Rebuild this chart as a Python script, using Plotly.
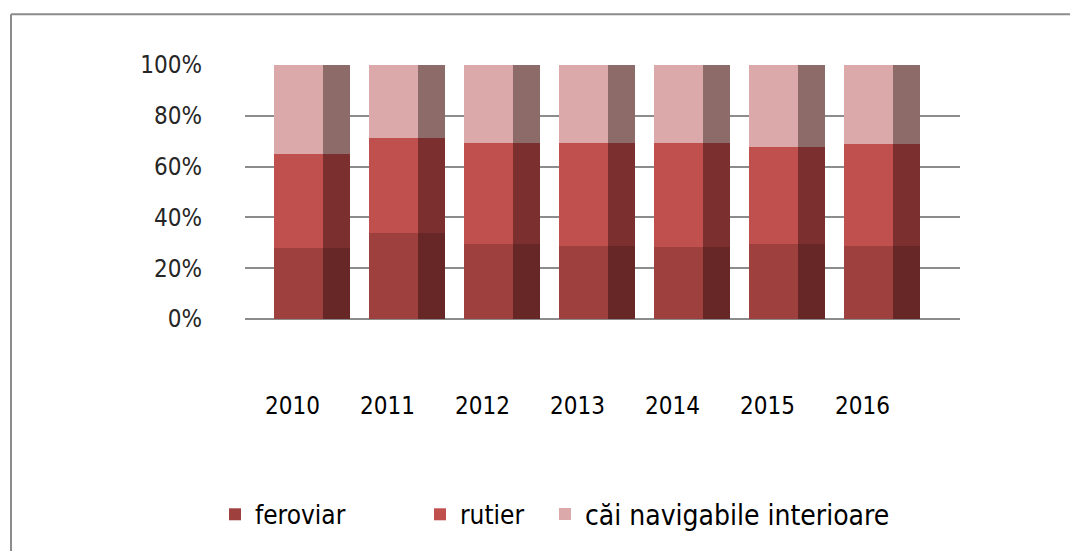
import plotly.graph_objects as go

years = ["2010", "2011", "2012", "2013", "2014", "2015", "2016"]
feroviar = [28.0, 33.8, 29.5, 28.9, 28.3, 29.5, 28.7]
rutier = [37.0, 37.5, 39.6, 40.2, 41.0, 38.3, 40.3]
cai_navigabile = [35.0, 28.7, 30.9, 30.9, 30.7, 32.2, 31.0]
y_ticks = [0, 20, 40, 60, 80, 100]
y_tick_text = ["0%", "20%", "40%", "60%", "80%", "100%"]

series = [
    ("feroviar", feroviar, "#9E413E", "#662726", "legend"),
    ("rutier", rutier, "#C0504D", "#7B2F2E", "legend2"),
    ("căi navigabile interioare", cai_navigabile, "#DBA9A9", "#8C6B69", "legend3"),
]

FONT = "Liberation Sans Narrow, Arial Narrow, DejaVu Sans Condensed, sans-serif"

fig = go.Figure()
for name, vals, col, side, leg in series:
    fig.add_trace(go.Bar(
        x=years, y=vals, name=name, legend=leg,
        marker=dict(color=col, line=dict(width=0)),
        offset=-0.2, width=0.52, xaxis="x", yaxis="y",
    ))
for name, vals, col, side, leg in series:
    fig.add_trace(go.Bar(
        x=years, y=vals, name=name, showlegend=False,
        marker=dict(color=side, line=dict(width=0)),
        offset=0.32, width=0.28, xaxis="x2", yaxis="y",
        hoverinfo="skip",
    ))

W, H = 1070, 543
ml, mr, mt, mb = 237, 118, 57, 226
pw = W - ml - mr
ph = H - mt - mb
x_range = [-0.5, -0.5 + pw / 95.0]

leg_y = 1 - (517 - mt) / ph
def legx(fig_text_x):
    return (fig_text_x - 40 - ml) / pw

def legend_cfg(x, size):
    return dict(orientation="h", x=x, y=leg_y, yanchor="middle", xanchor="left",
                font=dict(size=size, family=FONT, color="#000000"),
                itemwidth=30, bgcolor="rgba(0,0,0,0)")

fig.update_layout(
    width=W, height=H,
    barmode="stack", barnorm="percent",
    plot_bgcolor="white", paper_bgcolor="white",
    margin=dict(l=ml, r=mr, t=mt, b=mb, pad=0),
    font=dict(family=FONT, size=24, color="#000000"),
    showlegend=True,
    legend=legend_cfg(legx(247), 26),
    legend2=legend_cfg(legx(452), 26),
    legend3=legend_cfg(legx(577), 28),
    xaxis=dict(
        showgrid=False, showline=False, ticks="", tickfont=dict(size=24, color="#000000"),
        ticklabelstandoff=70, range=x_range, type="category",
    ),
    xaxis2=dict(
        overlaying="x", matches="x", showticklabels=False, showgrid=False,
        showline=False, ticks="", range=x_range, type="category",
    ),
    yaxis=dict(
        range=[0, 100], tickvals=y_ticks, ticktext=y_tick_text,
        showgrid=True, gridcolor="#8C8C8C", gridwidth=1.5,
        zeroline=True, zerolinecolor="#8C8C8C", zerolinewidth=1.5,
        showline=False, ticks="", tickfont=dict(size=24, color="#262626"),
        ticklabelstandoff=42,
    ),
)

# chart-area border (only top and left edges are visible in the frame)
bx = (3 - ml) / pw
by = 1 - (5 - mt) / ph
fig.add_shape(type="line", xref="paper", yref="paper", x0=bx, x1=(W + 20 - ml) / pw, y0=by, y1=by,
              line=dict(color="#8C8C8C", width=2), layer="below")
fig.add_shape(type="line", xref="paper", yref="paper", x0=bx, x1=bx, y0=by, y1=1 - (H + 40 - mt) / ph,
              line=dict(color="#8C8C8C", width=2), layer="below")

fig.write_html("out.html")
